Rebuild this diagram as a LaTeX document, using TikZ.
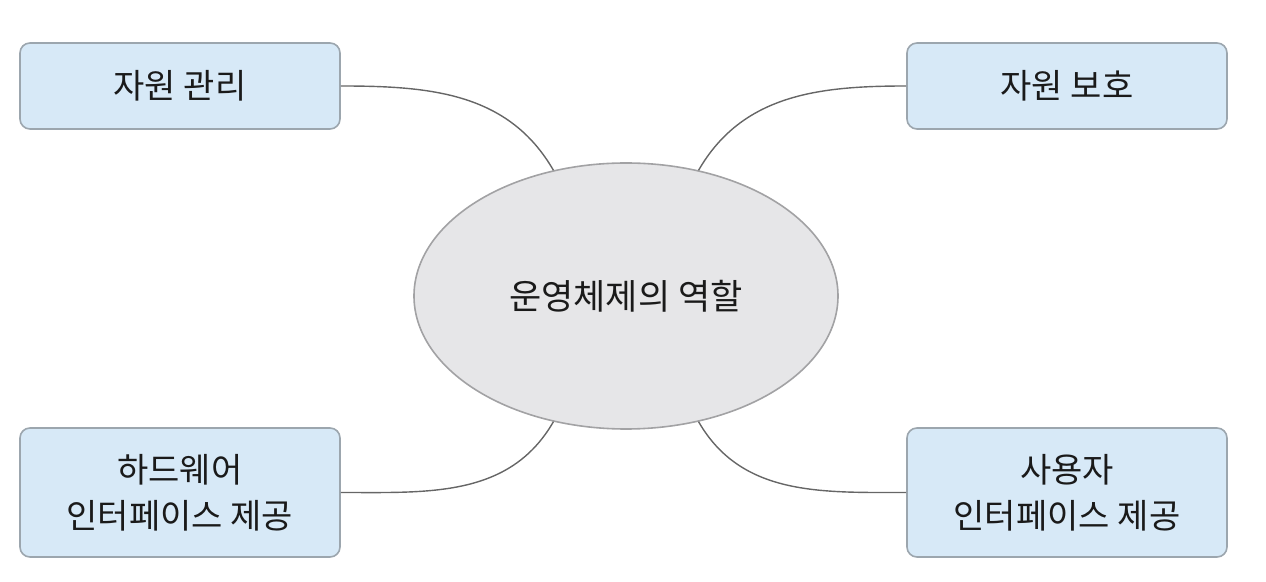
\documentclass[tikz,border=0pt]{standalone}
\usepackage{fontspec}
\setmainfont{Noto Sans CJK KR}
\usetikzlibrary{shapes.geometric}
\definecolor{boxfill}{HTML}{D7E9F7}
\definecolor{boxline}{HTML}{9CA6AE}
\definecolor{ellfill}{HTML}{E6E6E8}
\definecolor{ellline}{HTML}{A2A2A4}
\definecolor{conn}{HTML}{666666}
\definecolor{txt}{HTML}{1A1A1A}
\tikzset{
  rolebox/.style={draw=boxline, line width=0.8pt, fill=boxfill, rounded corners=5pt,
    minimum width=160pt, inner sep=0pt, align=center, text=txt,
    font=\fontsize{17pt}{23pt}\selectfont},
  core/.style={ellipse, draw=ellline, line width=0.8pt, fill=ellfill, minimum width=212pt,
    minimum height=133pt, inner sep=0pt, text=txt, font=\fontsize{17.5pt}{23pt}\selectfont},
  link/.style={draw=conn, line width=0.7pt}
}
\begin{document}
\begin{tikzpicture}[x=0.5pt,y=-0.5pt]
\useasboundingbox (0,0) rectangle (1266,582);
\node[core] (os) at (626,296) {운영체제의 역할};
\node[rolebox, minimum height=43pt] (tl) at (180,86) {자원 관리};
\node[rolebox, minimum height=43pt] (tr) at (1067,86) {자원 보호};
\node[rolebox, minimum height=64.5pt] (bl) at (180,492.5) {하드웨어\\인터페이스 제공};
\node[rolebox, minimum height=64.5pt] (br) at (1067,492.5) {사용자\\인터페이스 제공};
\draw[link] (tl.east) to[out=0, in=120] (os.120);
\draw[link] (tr.west) to[out=180, in=60] (os.60);
\draw[link] (bl.east) to[out=0, in=-120] (os.-120);
\draw[link] (br.west) to[out=180, in=-60] (os.-60);
\end{tikzpicture}
\end{document}
